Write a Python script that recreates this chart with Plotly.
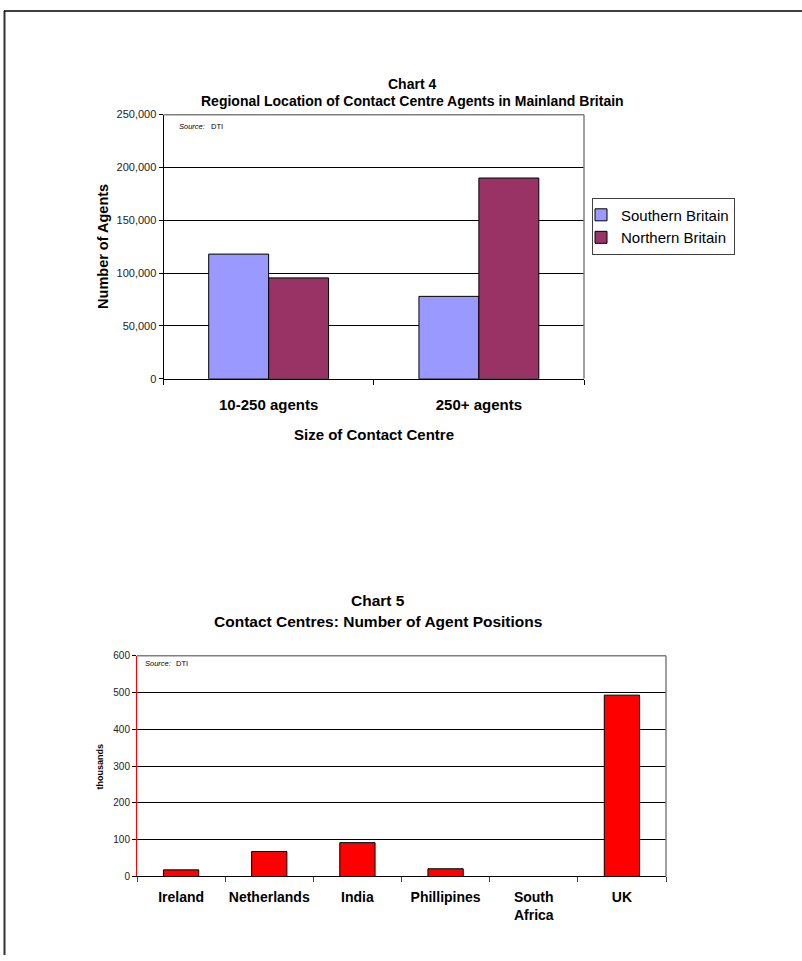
import plotly.graph_objects as go

W, H = 802, 961
FONT = "Liberation Sans, Arial, sans-serif"

# ---- Chart 4 data ----
sizes = ["10-250 agents", "250+ agents"]
southern = [118000, 78000]
northern = [95500, 190000]

# ---- Chart 5 data ----
countries = ["Ireland", "Netherlands", "India", "Phillipines", "South<br>Africa", "UK"]
positions = [18, 68, 92, 21, 0, 493]


def px(x):
    return x / W


def py(y):
    return 1 - y / H


fig = go.Figure()

fig.add_trace(go.Bar(x=sizes, y=southern, name="Southern Britain",
                     marker=dict(color="#9999FF", line=dict(color="black", width=1)),
                     xaxis="x", yaxis="y"))
fig.add_trace(go.Bar(x=sizes, y=northern, name="Northern Britain",
                     marker=dict(color="#993366", line=dict(color="black", width=1)),
                     xaxis="x", yaxis="y"))
fig.add_trace(go.Bar(x=countries, y=positions, name="Agent positions", showlegend=False,
                     marker=dict(color="#FF0000", line=dict(color="black", width=1)),
                     width=0.4, xaxis="x2", yaxis="y2"))

# plot area pixel boxes
p4 = dict(l=163.5, r=584, t=110, b=377.5)
p5 = dict(l=137, r=666, t=658, b=881.5)

fig.update_layout(
    width=W, height=H,
    margin=dict(l=0, r=0, t=0, b=0),
    paper_bgcolor="white", plot_bgcolor="white",
    font=dict(family=FONT, color="black"),
    barmode="group", bargap=0.43, bargroupgap=0,
    showlegend=True,
    legend=dict(x=px(592), y=py(194), xanchor="left", yanchor="top",
                bordercolor="#404040", borderwidth=1, bgcolor="white",
                font=dict(size=15, family=FONT, color="black"),
                itemwidth=30, tracegroupgap=0, indentation=-12),
    xaxis=dict(domain=[px(p4["l"]), px(p4["r"])], anchor="y",
               showline=True, linecolor="black", linewidth=1,
               ticks="outside", ticklen=5, tickcolor="black", tickson="boundaries",
               tickfont=dict(size=15, family=FONT, color="black", weight="bold"),
               tickangle=0, ticklabelstandoff=12, showgrid=False),
    yaxis=dict(domain=[py(p4["b"]), py(p4["t"])], anchor="x",
               range=[0, 250000], dtick=50000, tickformat=",",
               showline=True, linecolor="black", linewidth=1,
               ticks="outside", ticklen=4, tickcolor="black",
               tickfont=dict(size=11, family=FONT, color="#222"),
               showgrid=True, gridcolor="black", gridwidth=1, zeroline=False),
    xaxis2=dict(domain=[px(p5["l"]), px(p5["r"])], anchor="y2",
                showline=True, linecolor="black", linewidth=1,
                ticks="outside", ticklen=5, tickcolor="#444", tickson="boundaries",
                tickfont=dict(size=14, family=FONT, color="black", weight="bold"),
                tickangle=0, ticklabelstandoff=8, showgrid=False),
    yaxis2=dict(domain=[py(p5["b"]), py(p5["t"])], anchor="x2",
                range=[0, 600], dtick=100,
                showline=True, linecolor="#FF0000", linewidth=1,
                ticks="outside", ticklen=4, tickcolor="black",
                tickfont=dict(size=10, family=FONT, color="#222"),
                showgrid=True, gridcolor="black", gridwidth=1, zeroline=False),
)

shapes = []
# page border (left and top)
shapes.append(dict(type="line", xref="paper", yref="paper", x0=px(4.5), x1=px(4.5), y0=0, y1=py(5),
                   line=dict(color="#333", width=2)))
shapes.append(dict(type="line", xref="paper", yref="paper", x0=px(4), x1=1, y0=py(5), y1=py(5),
                   line=dict(color="black", width=1.5)))
# gray top/right borders of plot areas
for p in (p4, p5):
    shapes.append(dict(type="line", xref="paper", yref="paper", x0=px(p["l"]), x1=px(p["r"]),
                       y0=py(p["t"]), y1=py(p["t"]), line=dict(color="#808080", width=1.5)))
    shapes.append(dict(type="line", xref="paper", yref="paper", x0=px(p["r"]), x1=px(p["r"]),
                       y0=py(p["t"]), y1=py(p["b"]), line=dict(color="#808080", width=1.5)))
fig.update_layout(shapes=shapes)

ann = []


def text(x, y, s, size, bold=False, italic=False, angle=0, xanchor="center"):
    ann.append(dict(x=px(x), y=py(y), xref="paper", yref="paper", text=s, showarrow=False,
                    textangle=angle, xanchor=xanchor, yanchor="middle",
                    font=dict(size=size, family=FONT, color="black",
                              weight="bold" if bold else "normal",
                              style="italic" if italic else "normal")))


# Chart 4 titles
text(412, 79, "Chart 4", 14, bold=True)
text(412, 96, "Regional Location of Contact Centre Agents in Mainland Britain", 14, bold=True)
text(103, 244, "Number of Agents", 14.5, bold=True, angle=-90)
text(374, 434, "Size of Contact Centre", 15, bold=True)
text(177, 122, "Source:", 7.5, italic=True, xanchor="left")
text(209, 122, "DTI", 7.5, xanchor="left")

# Chart 5 titles
text(378, 602, "Chart 5", 15.5, bold=True)
text(378, 623, "Contact Centres: Number of Agent Positions", 15.5, bold=True)
text(100, 770, "thousands", 9, bold=True, angle=-90)
text(143, 666, "Source:", 7.5, italic=True, xanchor="left")
text(174, 666, "DTI", 7.5, xanchor="left")

fig.update_layout(annotations=ann)

fig.write_html("out.html")
